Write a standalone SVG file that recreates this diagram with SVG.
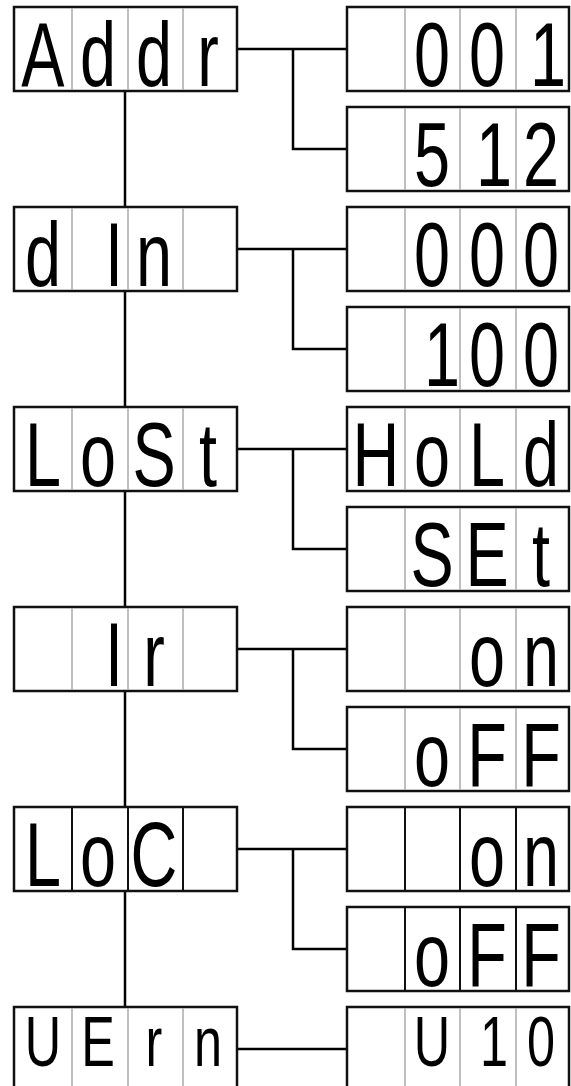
<svg xmlns="http://www.w3.org/2000/svg" width="571" height="1086" viewBox="0 0 571 1086">
<style>
.box{fill:#fff;stroke:#111;stroke-width:2.5}
.dv{stroke:#aaa;stroke-width:1.5}
.dk{stroke:#111;stroke-width:2}
.wire{fill:none;stroke:#000;stroke-width:2.5}
.seg{font-family:"Liberation Sans",Arial,sans-serif;font-size:90px;fill:#000;text-anchor:middle}
.sm{font-size:70px}
</style>
<rect width="571" height="1086" fill="#fff"/>
<g id="connectors">
<path class="wire" d="M125 91V1007"/>
<path class="wire" d="M237 49H347M293 49V149H347"/>
<path class="wire" d="M237 249H347M293 249V349H347"/>
<path class="wire" d="M237 449H347M293 449V549H347"/>
<path class="wire" d="M237 649H347M293 649V749H347"/>
<path class="wire" d="M237 849H347M293 849V949H347"/>
<path class="wire" d="M237 1049H347"/>
</g>
<g id="addr">
<rect class="box" x="14" y="7" width="223" height="84"/>
<path class="dv" d="M72 8V90M128 8V90M183 8V90"/>
<text class="seg" transform="scale(0.72,1)" y="86"><tspan x="59.7">A</tspan><tspan x="136.1">d</tspan><tspan x="213.9">d</tspan><tspan x="288.9">r</tspan></text>
</g>
<g id="addr-001">
<rect class="box" x="347" y="7" width="222" height="84"/>
<path class="dv" d="M405 8V90M460 8V90M516 8V90"/>
<text class="seg" transform="scale(0.72,1)" y="86"><tspan x="600">0</tspan><tspan x="676.4">0</tspan><tspan x="761.1">1</tspan></text>
</g>
<g id="addr-512">
<rect class="box" x="347" y="107" width="222" height="84"/>
<path class="dv" d="M405 108V190M460 108V190M516 108V190"/>
<text class="seg" transform="scale(0.72,1)" y="186"><tspan x="600">5</tspan><tspan x="686.1">1</tspan><tspan x="751.4">2</tspan></text>
</g>
<g id="din">
<rect class="box" x="14" y="207" width="223" height="84"/>
<path class="dv" d="M72 208V290M128 208V290M183 208V290"/>
<text class="seg" transform="scale(0.72,1)" y="286"><tspan x="59.7">d</tspan><tspan x="158.3">I</tspan><tspan x="213.9">n</tspan></text>
</g>
<g id="din-000">
<rect class="box" x="347" y="207" width="222" height="84"/>
<path class="dv" d="M405 208V290M460 208V290M516 208V290"/>
<text class="seg" transform="scale(0.72,1)" y="286"><tspan x="600">0</tspan><tspan x="676.4">0</tspan><tspan x="751.4">0</tspan></text>
</g>
<g id="din-100">
<rect class="box" x="347" y="307" width="222" height="84"/>
<path class="dv" d="M405 308V390M460 308V390M516 308V390"/>
<text class="seg" transform="scale(0.72,1)" y="386"><tspan x="613.9">1</tspan><tspan x="676.4">0</tspan><tspan x="751.4">0</tspan></text>
</g>
<g id="lost">
<rect class="box" x="14" y="407" width="223" height="84"/>
<path class="dv" d="M72 408V490M128 408V490M183 408V490"/>
<text class="seg" transform="scale(0.72,1)" y="486"><tspan x="59.7">L</tspan><tspan x="136.1">o</tspan><tspan x="213.9">S</tspan><tspan x="288.9">t</tspan></text>
</g>
<g id="lost-hold">
<rect class="box" x="347" y="407" width="222" height="84"/>
<path class="dv" d="M405 408V490M460 408V490M516 408V490"/>
<text class="seg" transform="scale(0.72,1)" y="486"><tspan x="522.2">H</tspan><tspan x="600">o</tspan><tspan x="676.4">L</tspan><tspan x="751.4">d</tspan></text>
</g>
<g id="lost-set">
<rect class="box" x="347" y="507" width="222" height="84"/>
<path class="dv" d="M405 508V590M460 508V590M516 508V590"/>
<text class="seg" transform="scale(0.72,1)" y="586"><tspan x="600">S</tspan><tspan x="676.4">E</tspan><tspan x="751.4">t</tspan></text>
</g>
<g id="ir">
<rect class="box" x="14" y="607" width="223" height="84"/>
<path class="dv" d="M72 608V690M128 608V690M183 608V690"/>
<text class="seg" transform="scale(0.72,1)" y="686"><tspan x="158.3">I</tspan><tspan x="213.9">r</tspan></text>
</g>
<g id="ir-on">
<rect class="box" x="347" y="607" width="222" height="84"/>
<path class="dv" d="M405 608V690M460 608V690M516 608V690"/>
<text class="seg" transform="scale(0.72,1)" y="686"><tspan x="676.4">o</tspan><tspan x="751.4">n</tspan></text>
</g>
<g id="ir-off">
<rect class="box" x="347" y="707" width="222" height="84"/>
<path class="dv" d="M405 708V790M460 708V790M516 708V790"/>
<text class="seg" transform="scale(0.72,1)" y="786"><tspan x="600">o</tspan><tspan x="676.4">F</tspan><tspan x="751.4">F</tspan></text>
</g>
<g id="loc">
<rect class="box" x="14" y="807" width="223" height="84"/>
<path class="dk" d="M72 808V890M128 808V890M183 808V890"/>
<text class="seg" transform="scale(0.72,1)" y="886"><tspan x="59.7">L</tspan><tspan x="136.1">o</tspan><tspan x="213.9">C</tspan></text>
</g>
<g id="loc-on">
<rect class="box" x="347" y="807" width="222" height="84"/>
<path class="dk" d="M405 808V890M460 808V890M516 808V890"/>
<text class="seg" transform="scale(0.72,1)" y="886"><tspan x="676.4">o</tspan><tspan x="751.4">n</tspan></text>
</g>
<g id="loc-off">
<rect class="box" x="347" y="907" width="222" height="84"/>
<path class="dk" d="M405 908V990M460 908V990M516 908V990"/>
<text class="seg" transform="scale(0.72,1)" y="986"><tspan x="600">o</tspan><tspan x="676.4">F</tspan><tspan x="751.4">F</tspan></text>
</g>
<g id="vern">
<rect class="box" x="14" y="1007" width="223" height="84"/>
<path class="dv" d="M72 1008V1090M128 1008V1090M183 1008V1090"/>
<text class="seg sm" transform="scale(0.72,1)" y="1066"><tspan x="59.7">U</tspan><tspan x="136.1">E</tspan><tspan x="213.9">r</tspan><tspan x="288.9">n</tspan></text>
</g>
<g id="vern-u10">
<rect class="box" x="347" y="1007" width="222" height="84"/>
<path class="dv" d="M405 1008V1090M460 1008V1090M516 1008V1090"/>
<text class="seg sm" transform="scale(0.72,1)" y="1066"><tspan x="600">U</tspan><tspan x="686.1">1</tspan><tspan x="751.4">0</tspan></text>
</g>
</svg>
